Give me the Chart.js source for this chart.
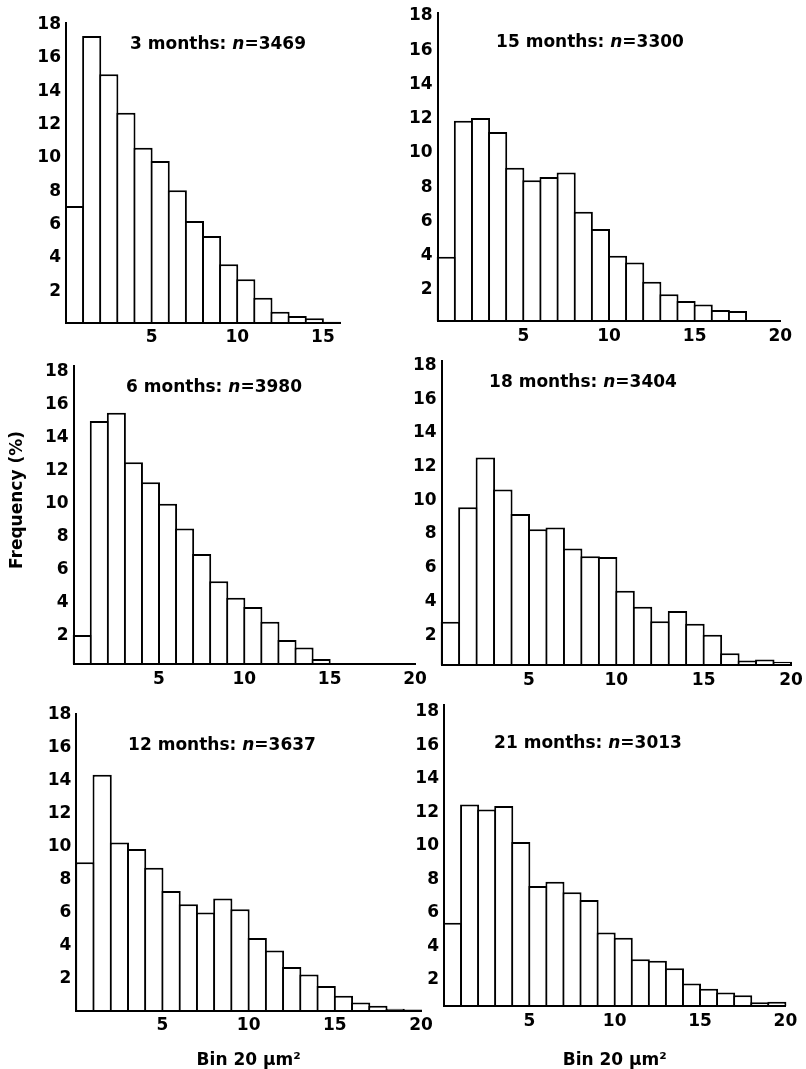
<!DOCTYPE html>
<html>
<head>
<meta charset="utf-8">
<script src="https://cdn.jsdelivr.net/npm/chart.js@4.4.0/dist/chart.umd.min.js"></script>
<style>
  html, body { margin: 0; padding: 0; background: #fff; overflow: hidden; }
  body { width: 806px; height: 1069px; position: relative; }
  canvas { position: absolute; }
</style>
</head>
<body>
<canvas id="m3"></canvas>
<canvas id="m15"></canvas>
<canvas id="m6"></canvas>
<canvas id="m18"></canvas>
<canvas id="m12"></canvas>
<canvas id="m21"></canvas>
<script>
  // Bin number (each bin is 20 um^2)
  const bins = [1, 2, 3, 4, 5, 6, 7, 8, 9, 10, 11, 12, 13, 14, 15, 16, 17, 18, 19, 20];

  // Age and number of fibres per panel
  const months = [3, 15, 6, 18, 12, 21];
  const sampleSizes = [3469, 3300, 3980, 3404, 3637, 3013];

  // Frequency (%) per bin
  const freq3 = [7.0, 17.2, 14.9, 12.6, 10.5, 9.7, 7.95, 6.1, 5.2, 3.5, 2.6, 1.5, 0.66, 0.4, 0.26, 0.05];
  const freq15 = [3.75, 11.7, 11.87, 11.05, 8.95, 8.23, 8.42, 8.68, 6.38, 5.37, 3.81, 3.42, 2.3, 1.56, 1.17, 0.97, 0.64, 0.58, 0, 0];
  const freq6 = [1.75, 14.7, 15.2, 12.2, 11.0, 9.7, 8.2, 6.65, 5.0, 4.0, 3.45, 2.55, 1.45, 1.0, 0.3, 0, 0, 0, 0, 0];
  const freq18 = [2.57, 9.35, 12.3, 10.4, 8.95, 8.05, 8.15, 6.9, 6.45, 6.4, 4.4, 3.45, 2.6, 3.2, 2.45, 1.8, 0.7, 0.26, 0.33, 0.2];
  const freq12 = [9.0, 14.3, 10.2, 9.8, 8.67, 7.25, 6.45, 5.95, 6.8, 6.15, 4.4, 3.65, 2.65, 2.2, 1.5, 0.9, 0.5, 0.3, 0.12, 0.08];
  const freq21 = [4.98, 12.05, 11.75, 11.95, 9.8, 7.17, 7.43, 6.8, 6.33, 4.4, 4.08, 2.8, 2.7, 2.25, 1.35, 1.03, 0.8, 0.65, 0.22, 0.25];

  // Axis ticks
  const xTicksShort = [5, 10, 15];
  const xTicks = [5, 10, 15, 20];
  const yTicks = [2, 4, 6, 8, 10, 12, 14, 16, 18];

  const yLabel = 'Frequency (%)';
  const xLabel = 'Bin 20 \u03bcm\u00b2';

  const FONT = '"DejaVu Sans"';
  const tickFont = { family: FONT, size: 17, weight: 'bold' };

  // page layout: plot area [left, top(=18), right, bottom(=0)] and title centre
  const panels = [
    { id: 'm3',  values: freq3,  xMax: 16, ticks: xTicksShort, area: [66, 22.7, 340, 322.7], title: [218, 45], yShift: 2 },
    { id: 'm15', values: freq15, xMax: 20, ticks: xTicks, area: [437.7, 13, 780.3, 321], title: [590, 43], yShift: 3 },
    { id: 'm6',  values: freq6,  xMax: 20, ticks: xTicks, area: [73.7, 366.4, 415, 664], title: [214, 388], yShift: 5, sideLabel: [18, 500] },
    { id: 'm18', values: freq18, xMax: 20, ticks: xTicks, area: [441.7, 361.4, 791, 665], title: [583, 383], yShift: 4 },
    { id: 'm12', values: freq12, xMax: 20, ticks: xTicks, area: [76.3, 713.7, 421, 1010.7], title: [222, 746], yShift: 1, bottomLabel: true },
    { id: 'm21', values: freq21, xMax: 20, ticks: xTicks, area: [444, 704.9, 785.4, 1006], title: [588, 744], yShift: 7, bottomLabel: true }
  ];

  // title with italic n, and the rotated frequency label
  const panelText = {
    id: 'panelText',
    afterDraw(chart, args, opts) {
      const ctx = chart.ctx;
      ctx.save();
      ctx.fillStyle = '#000';
      ctx.textBaseline = 'middle';
      ctx.textAlign = 'left';
      const normal = 'bold 17px ' + FONT;
      const italic = 'italic bold 17px ' + FONT;
      const parts = [[opts.months + ' months: ', normal], ['n', italic], ['=' + opts.n, normal]];
      let total = 0;
      parts.forEach(p => { ctx.font = p[1]; total += ctx.measureText(p[0]).width; });
      let x = opts.x - total / 2;
      parts.forEach(p => {
        ctx.font = p[1];
        ctx.fillText(p[0], x, opts.y);
        x += ctx.measureText(p[0]).width;
      });
      if (opts.side) {
        ctx.font = normal;
        ctx.textAlign = 'center';
        ctx.translate(opts.side[0], opts.side[1]);
        ctx.rotate(-Math.PI / 2);
        ctx.fillText(yLabel, 0, 0);
      }
      ctx.restore();
    }
  };

  panels.forEach((p, k) => {
    const [left, top, right, bottom] = p.area;
    const yw = p.sideLabel ? 72 : 50;
    const canvasLeft = Math.floor(left - yw);
    const canvasTop = Math.floor(top - 22);
    const axisW = left - canvasLeft;
    const padTop = top - canvasTop;
    const width = Math.ceil(axisW + (right - left) + 22);
    const padRight = width - axisW - (right - left);
    const height = p.bottomLabel ? Math.ceil(1068.5 - canvasTop) : Math.ceil(padTop + (bottom - top) + 30);
    const axisH = height - padTop - (bottom - top);

    const canvas = document.getElementById(p.id);
    canvas.width = width;
    canvas.height = height;
    canvas.style.left = canvasLeft + 'px';
    canvas.style.top = canvasTop + 'px';

    const unitPx = (right - left) / p.xMax;

    new Chart(canvas.getContext('2d'), {
      type: 'bar',
      data: {
        datasets: [{
          data: p.values.map((v, i) => ({ x: bins[i] - 0.5, y: v })),
          backgroundColor: '#fff',
          borderColor: '#000',
          borderWidth: 2,
          borderSkipped: 'bottom',
          barPercentage: 1 + 2 / unitPx,
          categoryPercentage: 1,
          clip: false
        }]
      },
      options: {
        responsive: false,
        animation: false,
        events: [],
        layout: { padding: { top: padTop, right: padRight, left: 0, bottom: 0 } },
        plugins: {
          legend: { display: false },
          tooltip: { enabled: false },
          panelText: {
            months: months[k], n: sampleSizes[k],
            x: p.title[0] - canvasLeft, y: p.title[1] - canvasTop,
            side: p.sideLabel ? [p.sideLabel[0] - canvasLeft, p.sideLabel[1] - canvasTop] : null
          }
        },
        scales: {
          x: {
            type: 'linear',
            min: 0,
            max: p.xMax,
            offset: false,
            afterBuildTicks: s => { s.ticks = p.ticks.map(v => ({ value: v })); },
            afterFit: s => { s.height = axisH; },
            grid: { display: false, drawTicks: false, offset: false },
            border: { display: true, color: '#000', width: 2, z: 1 },
            ticks: { color: '#000', font: tickFont, padding: 5, maxRotation: 0, autoSkip: false },
            title: {
              display: !!p.bottomLabel,
              text: xLabel,
              color: '#000',
              font: { family: FONT, size: 17, weight: 'bold', lineHeight: 1 },
              padding: 0
            }
          },
          y: {
            min: 0,
            max: 18,
            afterBuildTicks: s => { s.ticks = yTicks.map(v => ({ value: v })); },
            afterFit: s => { s.width = axisW; },
            grid: { display: false, drawTicks: false },
            border: { display: true, color: '#000', width: 2, z: 1 },
            ticks: { color: '#000', font: tickFont, padding: 5, labelOffset: p.yShift, autoSkip: false }
          }
        }
      },
      plugins: [panelText]
    });
  });
</script>
</body>
</html>
